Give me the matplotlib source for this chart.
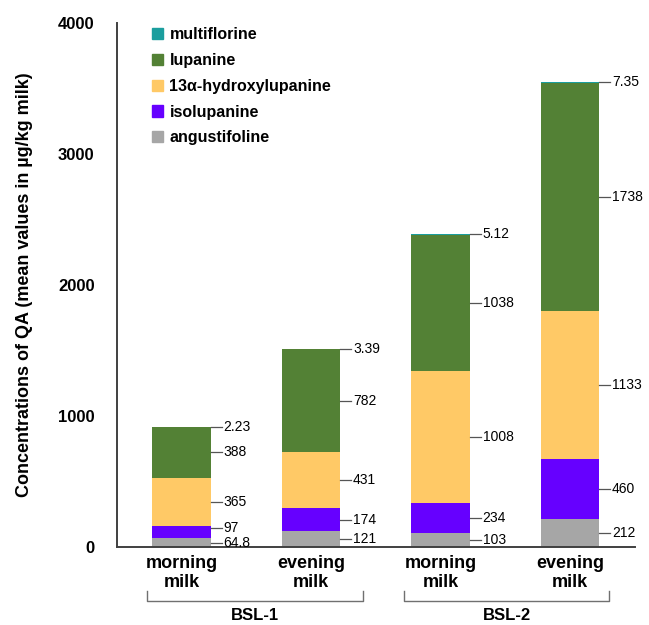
import numpy as np
import matplotlib.pyplot as plt
from matplotlib.patches import Patch
import matplotlib.transforms as mtransforms

plt.rcParams['font.family'] = ['Liberation Sans', 'DejaVu Sans']

# mean QA concentrations (µg/kg milk), bottom to top of each stack
samples = ["morning\nmilk", "evening\nmilk", "morning\nmilk", "evening\nmilk"]
groups = ["BSL-1", "BSL-2"]
compounds = ["angustifoline", "isolupanine", "13α-hydroxylupanine", "lupanine", "multiflorine"]
angustifoline = [64.8, 121, 103, 212]
isolupanine = [97, 174, 234, 460]
hydroxylupanine = [365, 431, 1008, 1133]
lupanine = [388, 782, 1038, 1738]
multiflorine = [2.23, 3.39, 5.12, 7.35]
labels = ["64.8", "121", "103", "212"], ["97", "174", "234", "460"], \
         ["365", "431", "1008", "1133"], ["388", "782", "1038", "1738"], \
         ["2.23", "3.39", "5.12", "7.35"]
colors = ["#a6a6a6", "#6600ff", "#ffc966", "#538135", "#1b9e9e"]

series = [angustifoline, isolupanine, hydroxylupanine, lupanine, multiflorine]

fig = plt.figure(figsize=(6.49, 6.25), dpi=100)
ax = fig.add_axes([0.180, 0.125, 0.798, 0.838])

x = np.arange(len(samples))
width = 0.45
min_gap = 115  # keep value labels from piling up on thin segments
bottom = np.zeros(len(samples))
last_y = np.full(len(samples), -1e9)
for vals, col, labs in zip(series, colors, labels):
    vals = np.array(vals, dtype=float)
    ax.bar(x, vals, width, bottom=bottom, color=col, edgecolor='none')
    is_top = col == colors[-1]
    for i, (xi, b, v, lab) in enumerate(zip(x, bottom, vals, labs)):
        y = b + v if is_top else b + v / 2
        if not is_top:
            y = max(y, last_y[i] + min_gap)
        last_y[i] = y
        x0 = xi + width / 2
        ax.plot([x0, x0 + 0.085], [y, y], color='#555555', lw=0.9, clip_on=False)
        ax.text(x0 + 0.1, y, lab, va='center', ha='left', fontsize=10, color='black')
    bottom += vals

ax.set_xlim(-0.5, 3.5)
ax.set_ylim(0, 4000)
ax.set_yticks([0, 1000, 2000, 3000, 4000])
ax.set_xticks(x)
ax.set_xticklabels(samples, fontsize=13, fontweight='bold', linespacing=1.1)
for t in ax.get_yticklabels():
    t.set_fontweight('bold')
    t.set_fontsize(12)
ax.tick_params(axis='both', length=0)
ax.tick_params(axis='y', pad=16)
ax.tick_params(axis='x', pad=6)
for s in ['top', 'right']:
    ax.spines[s].set_visible(False)
for s in ['left', 'bottom']:
    ax.spines[s].set_color('#404040')
    ax.spines[s].set_linewidth(1.4)

ax.set_ylabel("Concentrations of QA (mean values in µg/kg milk)",
              fontsize=13, fontweight='bold', labelpad=18)

# group brackets under the x labels
trans = mtransforms.blended_transform_factory(ax.transData, ax.transAxes)
for (x1, x2), name in zip([(-0.27, 1.4), (1.72, 3.3)], groups):
    ax.plot([x1, x1, x2, x2], [-0.085, -0.103, -0.103, -0.085], transform=trans,
            color='#707070', lw=1.0, clip_on=False)
    ax.text((x1 + x2) / 2, -0.139, name, transform=trans, ha='center', va='baseline',
            fontsize=12, fontweight='bold')

handles = [Patch(color=c, label=n) for c, n in zip(colors[::-1], compounds[::-1])]
leg = ax.legend(handles=handles, loc='upper left', bbox_to_anchor=(0.04, 1.02),
                frameon=False, handlelength=0.7, handleheight=0.7, handletextpad=0.4,
                labelspacing=0.68, prop={'weight': 'bold', 'size': 11.5})

fig.savefig("out.png", dpi=100)
